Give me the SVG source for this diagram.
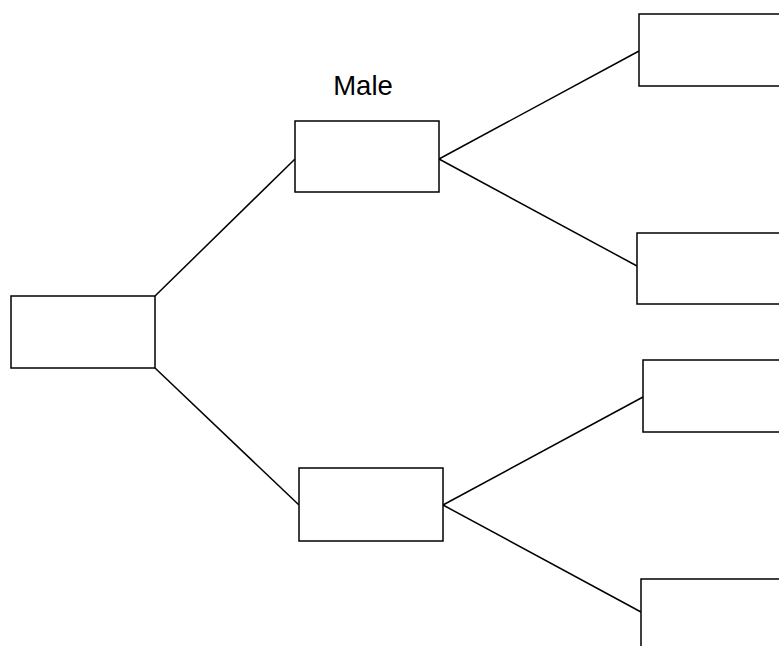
<svg xmlns="http://www.w3.org/2000/svg" width="779" height="646" viewBox="0 0 779 646">
<style>
.box{fill:#fff;stroke:#000;stroke-width:1.5}
.edge{stroke:#000;stroke-width:1.5;fill:none}
.lbl{font-family:"Liberation Sans",Arial,sans-serif;font-size:27.5px;fill:#000}
</style>
<rect width="779" height="646" fill="#fff"/>
<g id="connectors">
<line class="edge" x1="155" y1="296" x2="295" y2="159"/>
<line class="edge" x1="155" y1="368" x2="299" y2="505"/>
<line class="edge" x1="439" y1="159" x2="639" y2="51"/>
<line class="edge" x1="439" y1="159" x2="637" y2="266"/>
<line class="edge" x1="443" y1="505" x2="643" y2="397"/>
<line class="edge" x1="443" y1="505" x2="641" y2="612"/>
</g>
<g id="root"><rect class="box" x="11" y="296" width="144" height="72"/></g>
<g id="male"><rect class="box" x="295" y="121" width="144" height="71"/><text class="lbl" x="363" y="95" text-anchor="middle">Male</text></g>
<g id="female"><rect class="box" x="299" y="468" width="144" height="73"/></g>
<g id="leaf1"><rect class="box" x="639" y="14" width="160" height="72"/></g>
<g id="leaf2"><rect class="box" x="637" y="233" width="160" height="71"/></g>
<g id="leaf3"><rect class="box" x="643" y="360" width="160" height="72"/></g>
<g id="leaf4"><rect class="box" x="641" y="579" width="160" height="90"/></g>
</svg>
